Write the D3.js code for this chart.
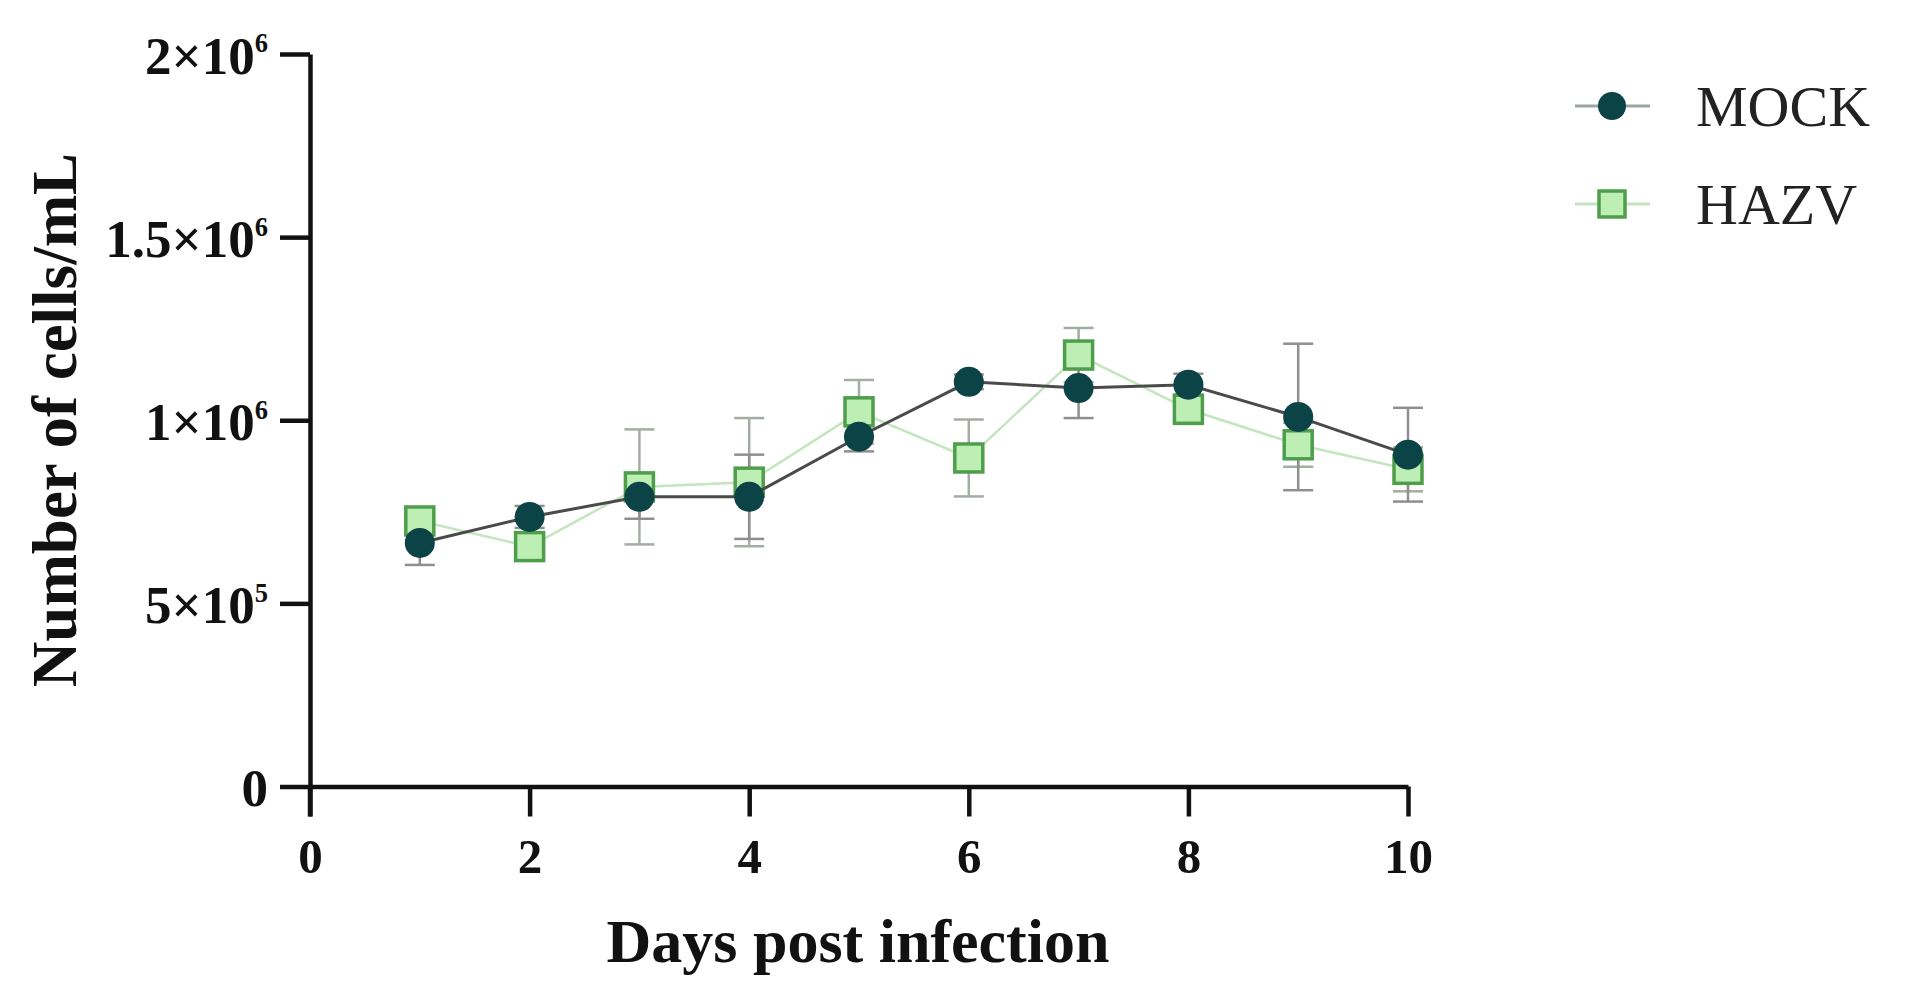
<!DOCTYPE html>
<html>
<head>
<meta charset="utf-8">
<script src="https://cdn.jsdelivr.net/npm/d3@7"></script>
<style>
  html, body { margin: 0; padding: 0; background: #ffffff; }
  svg { display: block; }
</style>
</head>
<body>
<svg id="chart" width="1906" height="1004"></svg>
<script>
// ---- data ----
const days = [1, 2, 3, 4, 5, 6, 7, 8, 9, 10];
const mockMean = [665000, 736000, 791000, 791000, 955000, 1105000, 1088000, 1097000, 1009000, 906000];
const mockErr  = [60000, 30000, 60000, 115000, 40000, 20000, 82000, 30000, 200000, 128000];
const hazvMean = [725000, 655000, 818000, 831000, 1023000, 897000, 1178000, 1030000, 933000, 866000];
const hazvErr  = [30000, 30000, 157000, 175000, 87000, 105000, 74000, 40000, 60000, 60000];
const xTicks = [0, 2, 4, 6, 8, 10];
const yTicks = [0, 500000, 1000000, 1500000, 2000000];
const yTickMantissa = ["0", "5", "1", "1.5", "2"];
const yTickExponent = ["", "5", "6", "6", "6"];
const seriesNames = ["MOCK", "HAZV"];

// ---- layout ----
const svg = d3.select("#chart");
const x = d3.scaleLinear().domain([0, 10]).range([310, 1408]);
const y = d3.scaleLinear().domain([0, 2000000]).range([786.5, 54]);
const serif = "'Liberation Serif', 'Times New Roman', serif";

const mockColor = "#0c4347";
const mockLine = "#4a4a4a";
const hazvFill = "#bdeeb4";
const hazvStroke = "#4f9e4c";
const hazvLine = "#c4e6bf";
const errColor = "#8f8f8f";

// ---- axes ----
const yAxis = d3.axisLeft(y).tickValues(yTicks).tickSize(30).tickSizeOuter(0).tickPadding(12)
  .tickFormat(() => "");
const gy = svg.append("g").attr("transform", "translate(310,0)").call(yAxis);
gy.selectAll(".tick text").each(function(d, i) {
  const t = d3.select(this);
  t.text(null);
  t.append("tspan").text(i === 0 ? yTickMantissa[i] : yTickMantissa[i] + "×10");
  if (yTickExponent[i]) {
    t.append("tspan").attr("font-size", "0.5em").attr("dy", "-0.8em").text(yTickExponent[i]);
  }
});
gy.selectAll("text").attr("font-family", serif).attr("font-weight", "bold")
  .attr("font-size", 53).attr("fill", "#111").attr("dy", "0.36em");

const xAxis = d3.axisBottom(x).tickValues(xTicks).tickSize(30).tickSizeOuter(0).tickPadding(22)
  .tickFormat(d3.format("d"));
const gx = svg.append("g").attr("transform", "translate(0,786.5)").call(xAxis);
gx.selectAll("text").attr("font-family", serif).attr("font-weight", "bold")
  .attr("font-size", 49).attr("fill", "#111");

[gx, gy].forEach(g => {
  g.selectAll("path.domain").attr("stroke", "#111").attr("stroke-width", 4.5);
  g.selectAll(".tick line").attr("stroke", "#111").attr("stroke-width", 4.5);
});
// extend y axis line below the x axis like the original
svg.append("line").attr("x1", 310).attr("x2", 310).attr("y1", 786.5).attr("y2", 816.5)
  .attr("stroke", "#111").attr("stroke-width", 4.5);

// ---- axis titles ----
svg.append("text").attr("x", 858).attr("y", 962).attr("text-anchor", "middle")
  .attr("font-family", serif).attr("font-weight", "bold").attr("font-size", 62).attr("fill", "#111")
  .text("Days post infection");
svg.append("text").attr("transform", "translate(76,420) rotate(-90)").attr("text-anchor", "middle")
  .attr("font-family", serif).attr("font-weight", "bold").attr("font-size", 63).attr("fill", "#111")
  .text("Number of cells/mL");

// ---- series ----
const line = d3.line().x((d, i) => x(days[i])).y(d => y(d));
const capW = 15;

function errorBars(means, errs, color) {
  const g = svg.append("g").attr("stroke", color).attr("stroke-width", 2.5);
  means.forEach((m, i) => {
    const cx = x(days[i]);
    g.append("line").attr("x1", cx).attr("x2", cx).attr("y1", y(m - errs[i])).attr("y2", y(m + errs[i]));
    g.append("line").attr("x1", cx - capW).attr("x2", cx + capW).attr("y1", y(m + errs[i])).attr("y2", y(m + errs[i]));
    g.append("line").attr("x1", cx - capW).attr("x2", cx + capW).attr("y1", y(m - errs[i])).attr("y2", y(m - errs[i]));
  });
}

errorBars(hazvMean, hazvErr, "#a3ada3");
errorBars(mockMean, mockErr, errColor);

svg.append("path").datum(hazvMean).attr("d", line).attr("fill", "none")
  .attr("stroke", hazvLine).attr("stroke-width", 2.5);
svg.append("g").selectAll("rect").data(hazvMean).join("rect")
  .attr("x", (d, i) => x(days[i]) - 14).attr("y", d => y(d) - 14)
  .attr("width", 28).attr("height", 28)
  .attr("fill", hazvFill).attr("stroke", hazvStroke).attr("stroke-width", 3.5);

svg.append("path").datum(mockMean).attr("d", line).attr("fill", "none")
  .attr("stroke", mockLine).attr("stroke-width", 3);
svg.append("g").selectAll("circle").data(mockMean).join("circle")
  .attr("cx", (d, i) => x(days[i])).attr("cy", d => y(d)).attr("r", 15)
  .attr("fill", mockColor);

// ---- legend ----
const legendY = [106, 204];
const lg = svg.append("g");
lg.append("line").attr("x1", 1575).attr("x2", 1650).attr("y1", legendY[0]).attr("y2", legendY[0])
  .attr("stroke", "#9aa6a6").attr("stroke-width", 3);
lg.append("circle").attr("cx", 1612).attr("cy", legendY[0]).attr("r", 14).attr("fill", mockColor);
lg.append("line").attr("x1", 1575).attr("x2", 1650).attr("y1", legendY[1]).attr("y2", legendY[1])
  .attr("stroke", "#c4e2c0").attr("stroke-width", 3);
lg.append("rect").attr("x", 1599).attr("y", legendY[1] - 13).attr("width", 26).attr("height", 26)
  .attr("fill", hazvFill).attr("stroke", hazvStroke).attr("stroke-width", 3.5);
seriesNames.forEach((n, i) => {
  lg.append("text").attr("x", 1696).attr("y", legendY[i] + 20)
    .attr("font-family", serif).attr("font-size", 58).attr("fill", "#222").text(n);
});
</script>
</body>
</html>
